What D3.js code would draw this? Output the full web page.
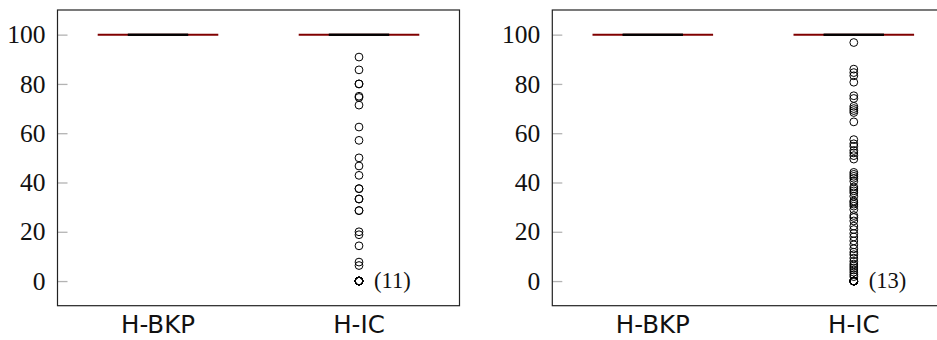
<!DOCTYPE html>
<html>
<head>
<meta charset="utf-8">
<script src="https://cdn.jsdelivr.net/npm/d3@7"></script>
<style>
  html, body { margin: 0; padding: 0; background: #fff; }
  svg { display: block; }
</style>
</head>
<body>
<script>
// ---- data ----
const categories = ["H-BKP", "H-IC"];
const yTicks = [0, 20, 40, 60, 80, 100];
// box statistics per category (all collapsed at 100)
const boxLow    = [100, 100];
const boxQ1     = [100, 100];
const boxMedian = [100, 100];
const boxQ3     = [100, 100];
const boxHigh   = [100, 100];
// outliers of H-IC, left panel
const leftOutliers = [90.9, 85.7, 80, 80, 75, 74.5, 71.4, 62.5, 57.1, 50, 46.7, 42.9,
  37.5, 37.5, 33.3, 33.3, 28.6, 28.6, 20, 18.8, 14.3, 7.7, 6.3,
  0, 0, 0, 0, 0, 0, 0, 0, 0, 0, 0];
// outliers of H-IC, right panel
const rightOutliers = [96.8, 86, 84.6, 83.3, 80.7, 75.2, 74.1, 70.9, 70, 69.2, 68.4, 64.6,
  57.4, 55.7, 54.7, 53, 52, 50.9, 49.5, 44.1, 43.3, 42.5, 41.7, 40.5,
  38.2, 37.4, 36.6, 35.8, 34.4, 32.5, 32, 31.2, 30.4, 29, 26.6, 25.8, 24.4,
  22.3, 20.9, 19.3, 17.9, 16.3, 14.7, 13.1, 11.7, 10.7, 9.3, 8, 6.9, 6.1,
  5.3, 4.5, 3.6, 2.6, 1.8,
  0, 0, 0, 0, 0, 0, 0, 0, 0, 0, 0, 0, 0];
const zeroCountLabels = ["(11)", "(13)"];

// ---- layout ----
const W = 937, H = 340;
const svg = d3.select("body").append("svg").attr("width", W).attr("height", H);

const panels = [
  { x0: 57.5, outliers: leftOutliers, label: zeroCountLabels[0] },
  { x0: 552.3, outliers: rightOutliers, label: zeroCountLabels[1] }
];
const plotW = 402, plotTop = 10, plotBottom = 305.7;

const y = d3.scaleLinear().domain([-10, 110]).range([plotBottom, plotTop]);
const darkRed = "#800000";

panels.forEach(p => {
  const x = d3.scaleLinear().domain([0.5, 2.5]).range([p.x0, p.x0 + plotW]);
  const g = svg.append("g");

  // y ticks (inside, grey) and labels
  const yAxis = d3.axisRight(y).tickValues(yTicks).tickSize(10).tickFormat("");
  const ag = g.append("g").attr("transform", `translate(${p.x0},0)`).call(yAxis);
  ag.select(".domain").remove();
  ag.selectAll(".tick line").attr("stroke", "#b3b3b3").attr("stroke-width", 1.3);

  g.selectAll("text.ytl").data(yTicks).join("text")
    .attr("class", "ytl")
    .attr("x", p.x0 - 12)
    .attr("y", d => y(d))
    .attr("dy", "0.34em")
    .attr("text-anchor", "end")
    .attr("font-family", "'Liberation Serif', serif")
    .attr("font-size", 25.5)
    .attr("fill", "#111")
    .text(d => d);

  // x labels
  g.selectAll("text.xtl").data(categories).join("text")
    .attr("class", "xtl")
    .attr("x", (d, i) => x(i + 1))
    .attr("y", 333)
    .attr("text-anchor", "middle")
    .attr("font-family", "'DejaVu Sans', sans-serif")
    .attr("font-size", 24.5)
    .attr("fill", "#111")
    .text(d => d);

  // boxes (collapsed)
  categories.forEach((c, i) => {
    const cx = i + 1;
    g.append("rect")
      .attr("x", x(cx - 0.3)).attr("width", x(cx + 0.3) - x(cx - 0.3))
      .attr("y", y(boxQ3[i])).attr("height", Math.max(0, y(boxQ1[i]) - y(boxQ3[i])))
      .attr("fill", "none").attr("stroke", darkRed).attr("stroke-width", 2);
    g.append("line")
      .attr("x1", x(cx - 0.3)).attr("x2", x(cx + 0.3))
      .attr("y1", y(boxMedian[i])).attr("y2", y(boxMedian[i]))
      .attr("stroke", darkRed).attr("stroke-width", 2);
    // whisker caps
    [boxLow[i], boxHigh[i]].forEach(v => {
      g.append("line")
        .attr("x1", x(cx - 0.15)).attr("x2", x(cx + 0.15))
        .attr("y1", y(v)).attr("y2", y(v))
        .attr("stroke", "#000").attr("stroke-width", 2);
    });
  });

  // outliers on H-IC
  g.selectAll("circle").data(p.outliers).join("circle")
    .attr("cx", x(2))
    .attr("cy", d => y(d))
    .attr("r", 3.9)
    .attr("fill", "none")
    .attr("stroke", "#000")
    .attr("stroke-width", 1);

  g.append("text")
    .attr("x", x(2) + 15)
    .attr("y", y(0))
    .attr("dy", "0.32em")
    .attr("font-family", "'Liberation Serif', serif")
    .attr("font-size", 22.5)
    .attr("fill", "#111")
    .text(p.label);

  // frame
  g.append("rect")
    .attr("x", p.x0).attr("y", plotTop)
    .attr("width", plotW).attr("height", plotBottom - plotTop)
    .attr("fill", "none").attr("stroke", "#222").attr("stroke-width", 1.2);
});
</script>
</body>
</html>
